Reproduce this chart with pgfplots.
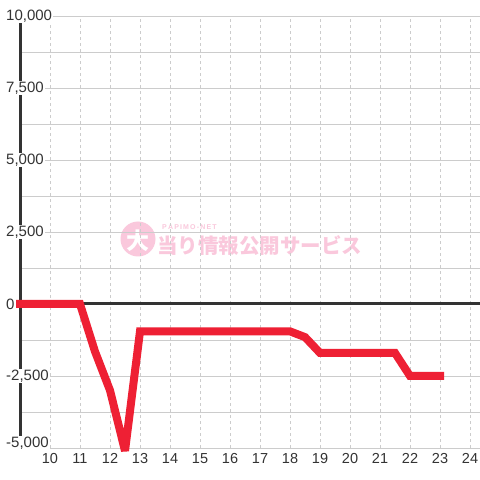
\documentclass[border=0pt]{standalone}
\usepackage{fontspec}
\setmainfont{Liberation Sans}
\newfontfamily\cjk{Noto Sans CJK JP}
\usepackage{pgfplots}
\pgfplotsset{compat=1.18}
\definecolor{linered}{RGB}{238,32,52}
\definecolor{txt}{RGB}{51,51,51}
\definecolor{gridc}{RGB}{204,204,204}
\definecolor{wm}{RGB}{250,200,220}
\begin{document}
\begin{tikzpicture}
\useasboundingbox (0,0) rectangle (480pt,480pt);
\fill[white] (0,0) rectangle (480pt,480pt);
% watermark
\fill[wm] (138pt,241pt) circle (17.5pt);
\node[text=white,font=\cjk\bfseries\fontsize{23}{23}\selectfont] at (138pt,239pt) {大};
\node[anchor=west,text=wm,font=\cjk\bfseries\fontsize{20.5}{20.5}\selectfont,inner sep=0pt] at (157pt,234pt) {当り情報公開サービス};
\node[anchor=west,text=wm,font=\bfseries\fontsize{7}{7}\selectfont,inner sep=0pt] at (162pt,253pt) {P\,A\,P\,I\,M\,O\,-\,N\,E\,T};
\begin{axis}[
  at={(20pt,32pt)}, anchor=south west,
  scale only axis, width=460pt, height=432pt,
  xmin=9, xmax=24.333, ymin=-5000, ymax=10000,
  clip=false,
  axis lines=left,
  axis line style={-},
  x axis line style={draw=none},
  y axis line style={line width=3pt, color=txt},
  xtick={10,...,24},
  ytick={-2500,0,2500,5000,7500,10000},
  extra y ticks={-5000},
  extra y tick style={yticklabel style={yshift=5pt}},
  minor ytick={-3750,-1250,1250,3750,6250,8750},
  scaled y ticks=false,
  xmajorgrids, ymajorgrids, yminorgrids,
  x grid style={gridc, dashed, line width=0.6pt},
  y grid style={gridc, solid, line width=0.8pt},
  major tick length=0pt, minor tick length=0pt,
  tick label style={font=\fontsize{14.5}{14.5}\selectfont, text=txt},
  yticklabel style={font=\fontsize{15}{15}\selectfont},
  /pgf/number format/assume math mode=true,
  /pgf/number format/fixed,
  /pgf/number format/1000 sep={,},
  yticklabel style={anchor=west, xshift=-15pt, fill=white, inner sep=1pt},
  xticklabel style={yshift=-2pt},
]
\draw[line width=3pt, color=txt] (axis cs:9,0) -- (axis cs:24.333,0);
\addplot[linered, line width=8pt, line cap=rect, line join=miter, miter limit=2] coordinates {
(9,0) (11,0) (11.5,-1650) (12,-3000) (12.5,-5100) (13,-950) (18,-950) (18.5,-1150) (19,-1700) (21.5,-1700) (22,-2500) (23,-2500)
};
\end{axis}
\end{tikzpicture}
\end{document}
